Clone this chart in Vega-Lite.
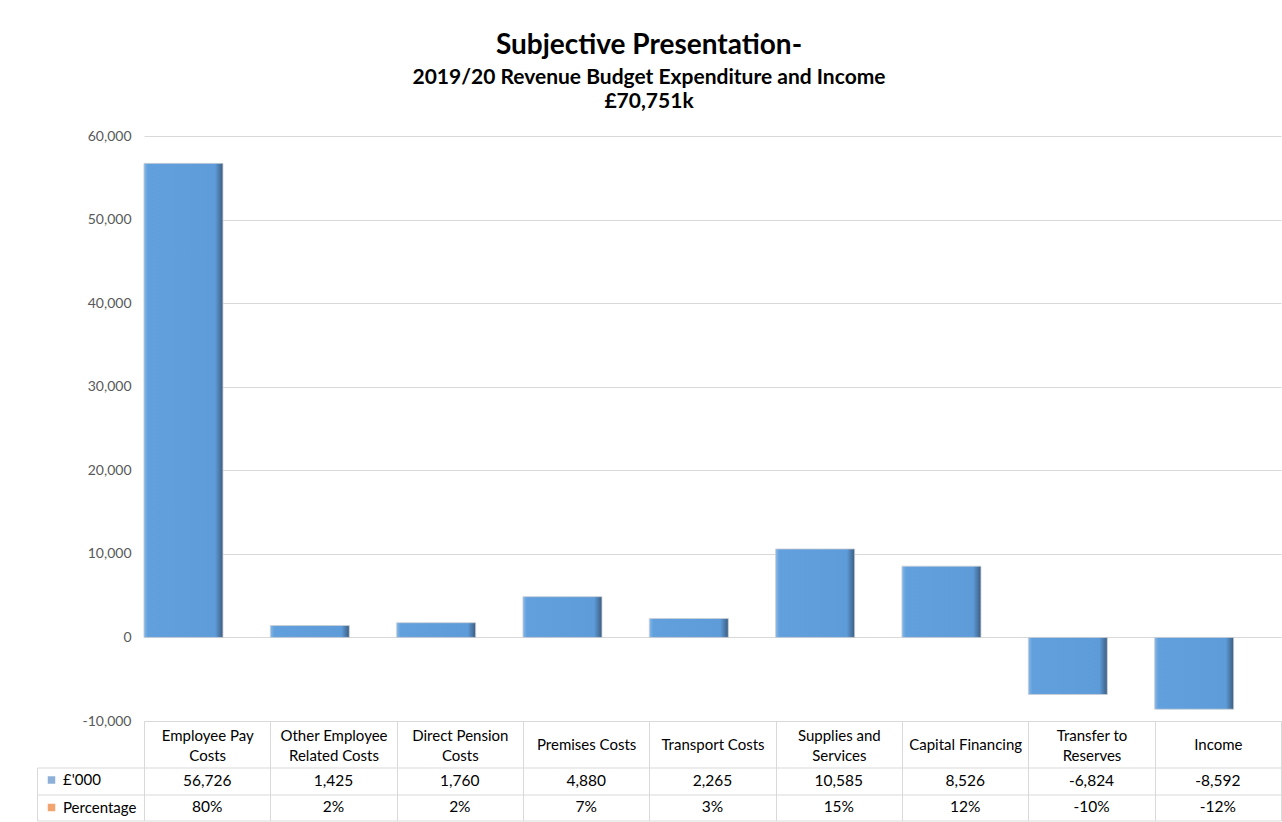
{
  "$schema": "https://vega.github.io/schema/vega-lite/v6.json",
  "padding": {"left": 36, "top": 32, "right": 2, "bottom": 1},
  "background": "white",
  "bounds": "flush",
  "spacing": 46.5,
  "config": {
    "font": "Lato",
    "view": {"stroke": null},
    "locale": {"number": {"decimal": ".", "thousands": ",", "grouping": [3], "currency": ["£", ""], "minus": "-"}},
    "axis": {"domainColor": "#d9d9d9", "gridColor": "#d9d9d9", "tickColor": "#d9d9d9", "gridWidth": 1, "domainWidth": 1, "tickWidth": 1}
  },
  "title": {
    "text": "Subjective Presentation-",
    "subtitle": ["2019/20 Revenue Budget Expenditure and Income", "£70,751k"],
    "anchor": "middle",
    "frame": "bounds",
    "dx": -10,
    "font": "Lato",
    "fontSize": 28,
    "fontWeight": "bold",
    "color": "black",
    "subtitleFont": "Lato",
    "subtitleFontSize": 21,
    "subtitleFontWeight": "bold",
    "subtitleColor": "black",
    "subtitleLineHeight": 24,
    "subtitlePadding": 7,
    "offset": 17
  },
  "datasets": {
    "budget": [
      {"category": "Employee Pay Costs", "value": 56726, "pct": 0.80},
      {"category": "Other Employee Related Costs", "value": 1425, "pct": 0.02},
      {"category": "Direct Pension Costs", "value": 1760, "pct": 0.02},
      {"category": "Premises Costs", "value": 4880, "pct": 0.07},
      {"category": "Transport Costs", "value": 2265, "pct": 0.03},
      {"category": "Supplies and Services", "value": 10585, "pct": 0.15},
      {"category": "Capital Financing", "value": 8526, "pct": 0.12},
      {"category": "Transfer to Reserves", "value": -6824, "pct": -0.10},
      {"category": "Income", "value": -8592, "pct": -0.12}
    ]
  },
  "resolve": {"scale": {"color": "independent", "x": "independent", "y": "independent"}},
  "vconcat": [
    {
      "width": 1137,
      "height": 585,
      "data": {"name": "budget"},
      "mark": {
        "type": "bar",
        "width": 79,
        "xOffset": -23.7,
        "stroke": "#c9ced4",
        "strokeWidth": 0.8,
        "fill": {
          "gradient": "linear", "x1": 0, "y1": 0, "x2": 1, "y2": 0,
          "stops": [
            {"offset": 0, "color": "#86b8e8"},
            {"offset": 0.05, "color": "#62a0dd"},
            {"offset": 0.9, "color": "#5e9cd9"},
            {"offset": 1, "color": "#3c5d80"}
          ]
        }
      },
      "encoding": {
        "x": {
          "field": "category", "type": "nominal", "sort": null,
          "scale": {"paddingInner": 0, "paddingOuter": 0},
          "axis": {
            "title": null, "orient": "bottom", "labelAngle": 0,
            "tickBand": "extent", "tickSize": 46.5, "ticks": true, "domain": true,
            "labelPadding": {"condition": {"test": "datum.value == 'Employee Pay Costs' || datum.value == 'Other Employee Related Costs' || datum.value == 'Direct Pension Costs' || datum.value == 'Supplies and Services' || datum.value == 'Transfer to Reserves'", "value": -32}, "value": -23.25},
            "labelBaseline": "middle", "labelFontSize": 15,
            "labelColor": "black", "labelLineHeight": 20, "labelOverlap": false, "labelLimit": 300,
            "labelExpr": "datum.label == 'Employee Pay Costs' ? ['Employee Pay', 'Costs'] : datum.label == 'Other Employee Related Costs' ? ['Other Employee', 'Related Costs'] : datum.label == 'Direct Pension Costs' ? ['Direct Pension', 'Costs'] : datum.label == 'Supplies and Services' ? ['Supplies and', 'Services'] : datum.label == 'Transfer to Reserves' ? ['Transfer to', 'Reserves'] : datum.label"
          }
        },
        "y": {
          "field": "value", "type": "quantitative",
          "scale": {"domain": [-10000, 60000], "nice": false},
          "axis": {
            "title": null, "values": [-10000, 0, 10000, 20000, 30000, 40000, 50000, 60000],
            "format": ",d", "grid": true, "ticks": false, "domain": false,
            "labelFontSize": 14, "labelColor": "#595959", "labelPadding": 13
          }
        }
      }
    },
    {
      "width": 1137,
      "height": 53,
      "layer": [
        {
          "data": {"name": "budget"},
          "mark": {"type": "text", "fontSize": 15.5, "color": "black"},
          "encoding": {
            "x": {
              "field": "category", "type": "nominal", "sort": null,
              "scale": {"paddingInner": 0, "paddingOuter": 0},
              "axis": {"title": null, "orient": "top", "labels": false, "ticks": false, "domain": false, "grid": true, "tickBand": "extent"}
            },
            "y": {
              "datum": "£'000", "type": "nominal",
              "scale": {"domain": ["£'000", "Percentage"], "paddingInner": 0, "paddingOuter": 0},
              "axis": {"title": null, "labels": false, "grid": true, "tickBand": "extent", "ticks": true, "tickSize": -107, "offset": 107, "domain": true}
            },
            "text": {"field": "value", "type": "quantitative", "format": ",d"}
          }
        },
        {
          "data": {"name": "budget"},
          "mark": {"type": "text", "fontSize": 15.5, "color": "black"},
          "encoding": {
            "x": {"field": "category", "type": "nominal", "sort": null},
            "y": {"datum": "Percentage", "type": "nominal"},
            "text": {"field": "pct", "type": "quantitative", "format": ".0%"}
          }
        },
        {
          "data": {"values": [{"series": "£'000"}, {"series": "Percentage"}]},
          "mark": {"type": "square", "size": 0},
          "encoding": {
            "y": {"field": "series", "type": "nominal"},
            "color": {
              "field": "series", "type": "nominal",
              "scale": {"domain": ["£'000", "Percentage"], "range": ["#5b8fc7", "#ed7d31"]},
              "legend": {
                "orient": "none", "legendX": -100, "legendY": 5, "title": null,
                "symbolType": "square", "symbolSize": 56, "labelFontSize": 15, "labelColor": "black",
                "rowPadding": 11.5, "labelOffset": 4, "padding": 0, "symbolStrokeWidth": 0
              }
            }
          }
        }
      ]
    }
  ]
}
